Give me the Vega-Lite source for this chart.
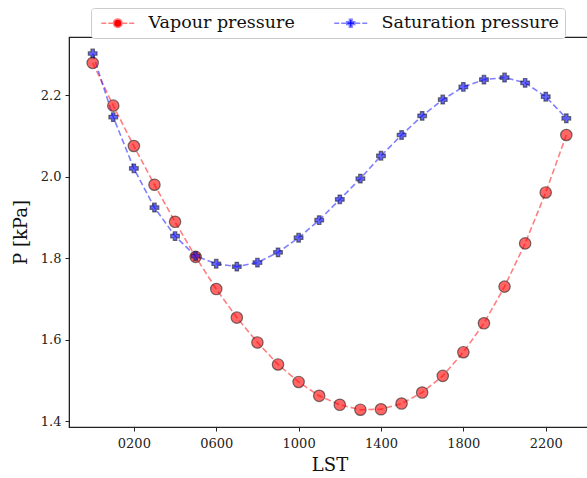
{
  "$schema": "https://vega.github.io/schema/vega-lite/v6.json",
  "autosize": {"type": "none"},
  "padding": {"left": 69, "top": 37, "right": 0, "bottom": 51},
  "width": 521,
  "height": 390,
  "config": {
    "font": "DejaVu Serif",
    "view": {"stroke": "#222222", "strokeWidth": 1.2},
    "axis": {
      "grid": false,
      "domainColor": "#222222",
      "tickColor": "#222222",
      "tickSize": 4,
      "labelFont": "DejaVu Serif",
      "labelFontSize": 13,
      "labelColor": "#222222",
      "titleFont": "DejaVu Serif",
      "titleFontSize": 18,
      "titleFontWeight": "normal",
      "titleColor": "#111111"
    },
    "legend": {
      "orient": "none", "legendX": 22, "legendY": -29,
      "direction": "horizontal", "title": null,
      "labelFont": "DejaVu Serif", "labelFontSize": 17.5, "labelColor": "#111111",
      "labelLimit": 400,
      "strokeColor": "#cccccc", "fillColor": "white", "cornerRadius": 3,
      "padding": 6, "symbolSize": 100, "labelOffset": 22, "columnPadding": 35,
      "symbolOffset": 12, "symbolStrokeWidth": 1.5
    }
  },
  "data": {
    "values": [
      {"hour": 0, "series": "Vapour pressure", "P": 2.280},
      {"hour": 1, "series": "Vapour pressure", "P": 2.175},
      {"hour": 2, "series": "Vapour pressure", "P": 2.076},
      {"hour": 3, "series": "Vapour pressure", "P": 1.981},
      {"hour": 4, "series": "Vapour pressure", "P": 1.890},
      {"hour": 5, "series": "Vapour pressure", "P": 1.804},
      {"hour": 6, "series": "Vapour pressure", "P": 1.725},
      {"hour": 7, "series": "Vapour pressure", "P": 1.655},
      {"hour": 8, "series": "Vapour pressure", "P": 1.594},
      {"hour": 9, "series": "Vapour pressure", "P": 1.540},
      {"hour": 10, "series": "Vapour pressure", "P": 1.497},
      {"hour": 11, "series": "Vapour pressure", "P": 1.463},
      {"hour": 12, "series": "Vapour pressure", "P": 1.441},
      {"hour": 13, "series": "Vapour pressure", "P": 1.429},
      {"hour": 14, "series": "Vapour pressure", "P": 1.430},
      {"hour": 15, "series": "Vapour pressure", "P": 1.444},
      {"hour": 16, "series": "Vapour pressure", "P": 1.471},
      {"hour": 17, "series": "Vapour pressure", "P": 1.512},
      {"hour": 18, "series": "Vapour pressure", "P": 1.570},
      {"hour": 19, "series": "Vapour pressure", "P": 1.641},
      {"hour": 20, "series": "Vapour pressure", "P": 1.731},
      {"hour": 21, "series": "Vapour pressure", "P": 1.837},
      {"hour": 22, "series": "Vapour pressure", "P": 1.962},
      {"hour": 23, "series": "Vapour pressure", "P": 2.103},
      {"hour": 0, "series": "Saturation pressure", "P": 2.303},
      {"hour": 1, "series": "Saturation pressure", "P": 2.147},
      {"hour": 2, "series": "Saturation pressure", "P": 2.021},
      {"hour": 3, "series": "Saturation pressure", "P": 1.925},
      {"hour": 4, "series": "Saturation pressure", "P": 1.855},
      {"hour": 5, "series": "Saturation pressure", "P": 1.806},
      {"hour": 6, "series": "Saturation pressure", "P": 1.787},
      {"hour": 7, "series": "Saturation pressure", "P": 1.780},
      {"hour": 8, "series": "Saturation pressure", "P": 1.790},
      {"hour": 9, "series": "Saturation pressure", "P": 1.815},
      {"hour": 10, "series": "Saturation pressure", "P": 1.851},
      {"hour": 11, "series": "Saturation pressure", "P": 1.894},
      {"hour": 12, "series": "Saturation pressure", "P": 1.945},
      {"hour": 13, "series": "Saturation pressure", "P": 1.996},
      {"hour": 14, "series": "Saturation pressure", "P": 2.052},
      {"hour": 15, "series": "Saturation pressure", "P": 2.103},
      {"hour": 16, "series": "Saturation pressure", "P": 2.150},
      {"hour": 17, "series": "Saturation pressure", "P": 2.190},
      {"hour": 18, "series": "Saturation pressure", "P": 2.221},
      {"hour": 19, "series": "Saturation pressure", "P": 2.239},
      {"hour": 20, "series": "Saturation pressure", "P": 2.244},
      {"hour": 21, "series": "Saturation pressure", "P": 2.231},
      {"hour": 22, "series": "Saturation pressure", "P": 2.197},
      {"hour": 23, "series": "Saturation pressure", "P": 2.144}
    ]
  },
  "encoding": {
    "x": {
      "field": "hour", "type": "quantitative",
      "scale": {"domain": [-1.15, 24.15], "nice": false, "zero": false},
      "axis": {
        "title": "LST", "values": [2, 6, 10, 14, 18, 22],
        "labelExpr": "(datum.value < 10 ? '0' : '') + datum.value + '00'",
        "labelPadding": 6, "titlePadding": 6
      }
    },
    "y": {
      "field": "P", "type": "quantitative",
      "scale": {"domain": [1.3865, 2.3435], "nice": false, "zero": false},
      "axis": {
        "title": "P [kPa]", "values": [1.4, 1.6, 1.8, 2.0, 2.2],
        "format": ".1f", "labelPadding": 4, "titlePadding": 10
      }
    }
  },
  "layer": [
    {
      "transform": [{"filter": "datum.series === 'Vapour pressure'"}],
      "mark": {"type": "line", "stroke": "#ff0000", "strokeDash": [6, 3], "strokeWidth": 1.6, "opacity": 0.5}
    },
    {
      "transform": [{"filter": "datum.series === 'Saturation pressure'"}],
      "mark": {"type": "line", "stroke": "#0000ff", "strokeDash": [6, 3], "strokeWidth": 1.6, "opacity": 0.5}
    },
    {
      "transform": [{"filter": "datum.series === 'Vapour pressure'"}],
      "mark": {"type": "point", "shape": "circle", "filled": true, "fill": "#ff0000", "fillOpacity": 0.6, "stroke": "#222222", "strokeOpacity": 0.6, "strokeWidth": 1.2, "size": 130}
    },
    {
      "transform": [{"filter": "datum.series === 'Saturation pressure'"}],
      "mark": {"type": "point", "shape": "cross", "filled": true, "fill": "#0000ff", "fillOpacity": 0.6, "stroke": "#222222", "strokeOpacity": 0.6, "strokeWidth": 1.2, "size": 75}
    },
    {
      "mark": {"type": "point", "filled": true, "fillOpacity": 0.6, "strokeWidth": 1.5, "size": 0},
      "encoding": {
        "color": {
          "field": "series", "type": "nominal",
          "scale": {"domain": ["Vapour pressure", "Saturation pressure"], "range": ["#ff0000", "#0000ff"]}
        },
        "stroke": {
          "field": "series", "type": "nominal",
          "scale": {"domain": ["Vapour pressure", "Saturation pressure"], "range": ["#ff8080", "#8080ff"]}
        },
        "shape": {
          "field": "series", "type": "nominal",
          "scale": {
            "domain": ["Vapour pressure", "Saturation pressure"],
            "range": [
              "M-3.3,0H-2.3M-1.9,0H-0.9M0.9,0H1.9M2.3,0H3.3M0.85,0A0.85,0.85,0,1,1,-0.85,0A0.85,0.85,0,1,1,0.85,0Z",
              "M-3.3,0H-2.3M-1.9,0H-0.9M0.9,0H1.9M2.3,0H3.3M-0.8,-0.27H-0.27V-0.8H0.27V-0.27H0.8V0.27H0.27V0.8H-0.27V0.27H-0.8Z"
            ]
          }
        }
      }
    }
  ]
}
